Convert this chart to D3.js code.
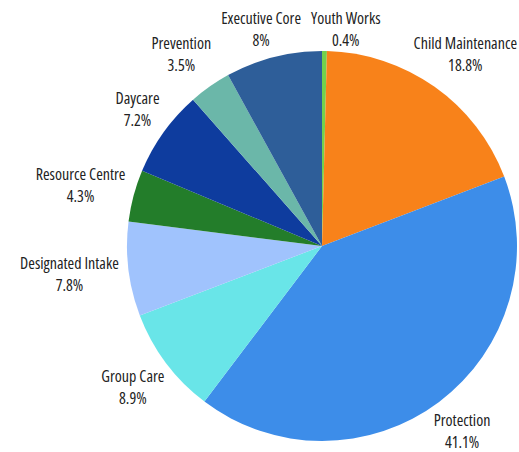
<!DOCTYPE html>
<html><head><meta charset="utf-8">
<script src="https://cdn.jsdelivr.net/npm/d3@7"></script>
<style>
html,body{margin:0;padding:0;background:#fff;}
svg{display:block;}
text{font-family:"Open Sans","Liberation Sans Narrow","DejaVu Sans Condensed",sans-serif;font-stretch:75%;font-size:16px;fill:#222;}
</style></head>
<body>
<svg id="chart" width="519" height="452"></svg>
<script>
const categories = ["Youth Works","Child Maintenance","Protection","Group Care","Designated Intake","Resource Centre","Daycare","Prevention","Executive Core"];
const values = [0.4,18.8,41.1,8.9,7.8,4.3,7.2,3.5,8];
const valueLabels = ["0.4%","18.8%","41.1%","8.9%","7.8%","4.3%","7.2%","3.5%","8%"];
const colors = ["#72d14c","#f8821a","#3d8de9","#69e5e8","#a0c3fd","#237d2a","#0e3c9e","#6bb7a9","#2e5e99"];

const W = 519, H = 452;
const cx = 322, cy = 246, r = 195;
const svg = d3.select("#chart");
const g = svg.append("g").attr("transform", `translate(${cx},${cy})`);

const data = categories.map((c,i)=>({name:c, value:values[i], label:valueLabels[i], color:colors[i]}));
const pie = d3.pie().value(d=>d.value).sort(null).startAngle(0).endAngle(2*Math.PI);
const arcs = pie(data);
const arc = d3.arc().innerRadius(0).outerRadius(r);

g.selectAll("path.slice").data(arcs).join("path")
  .attr("class","slice")
  .attr("d", arc)
  .attr("fill", d=>d.data.color);

// labels
const R0 = r + 10;
const lineGap = 22;
const labels = g.selectAll("g.lab").data(arcs).join("g").attr("class","lab");
labels.append("text").attr("class","l1").attr("text-anchor","middle").attr("y",-lineGap/2+6).text(d=>d.data.name);
labels.append("text").attr("class","l2").attr("text-anchor","middle").attr("y",lineGap/2+6).text(d=>d.data.label);

const boxes = [];
labels.each(function(d){
  const sel = d3.select(this);
  const w = Math.max(sel.select(".l1").node().getComputedTextLength(), sel.select(".l2").node().getComputedTextLength());
  const h = 40;
  const a = (d.startAngle + d.endAngle)/2;
  const ax = R0*Math.sin(a), ay = -R0*Math.cos(a);
  let x = ax + Math.sin(a)*w/2;
  let y = ay - Math.cos(a)*30;
  // keep inside the picture
  x = Math.max(-cx + w/2 + 2, Math.min(W - cx - w/2 - 2, x));
  y = Math.max(-cy + 29, Math.min(H - cy - 21, y));
  boxes.push({d, sel, w, h, x, y, a});
});
// resolve overlaps: push smaller slice's label sideways
for (let i = 0; i < boxes.length; i++) {
  for (let j = 0; j < boxes.length; j++) {
    if (i === j) continue;
    const A = boxes[i], B = boxes[j];
    const ox = (A.w + B.w)/2 + 10 - Math.abs(A.x - B.x);
    const oy = (A.h + B.h)/2 - 4 - Math.abs(A.y - B.y);
    if (ox > 0 && oy > 0 && A.d.data.value < B.d.data.value) {
      A.x += (A.x >= B.x ? ox : -ox);
    }
  }
}
boxes.forEach(b => b.sel.attr("transform", `translate(${b.x},${b.y})`));
</script>
</body></html>
